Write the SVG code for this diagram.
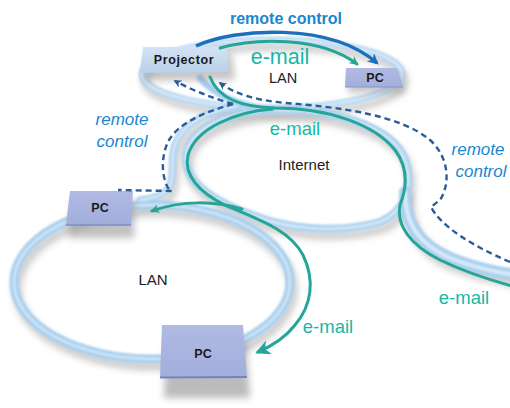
<svg xmlns="http://www.w3.org/2000/svg" width="510" height="408" viewBox="0 0 510 408">
<defs>
<style>
text{font-family:"Liberation Sans",Arial,sans-serif}
.sh{fill:none;stroke:#a7a7a7;stroke-opacity:.55;stroke-linecap:round}
.bd{fill:none;stroke:#a9cfee;stroke-linecap:round}
.bi{fill:none;stroke:#d8ebf9;stroke-linecap:round}
.teal{fill:none;stroke:#25a596;stroke-width:3;stroke-linecap:round}
.dash{fill:none;stroke:#2b5c98;stroke-width:2.4;stroke-dasharray:6 4}
.rc{fill:#1b86d0}
.em{fill:#16b8a5}
.lbl{fill:#222}
.pc{font-weight:bold;font-size:12.5px;fill:#1a1a1a;text-anchor:middle}
.box{stroke:none}
</style>
<filter id="blur" x="-20%" y="-20%" width="140%" height="140%"><feGaussianBlur stdDeviation="3"/></filter>
<filter id="soft" x="-10%" y="-10%" width="120%" height="120%"><feGaussianBlur stdDeviation="0.8"/></filter>
<filter id="bshadow" x="-30%" y="-30%" width="160%" height="180%"><feGaussianBlur stdDeviation="3.5"/></filter>
<marker id="ateal" viewBox="0 0 10 10" refX="8" refY="5" markerWidth="9" markerHeight="9" markerUnits="userSpaceOnUse" orient="auto"><path d="M0,0 L10,5 L0,10 L3,5 Z" fill="#25a596"/></marker>
<marker id="atealbig" viewBox="0 0 10 10" refX="8" refY="5" markerWidth="17" markerHeight="15" markerUnits="userSpaceOnUse" orient="auto"><path d="M0,0 L10,5 L0,10 L3,5 Z" fill="#25a596"/></marker>
<marker id="ablue" viewBox="0 0 10 10" refX="8" refY="5" markerWidth="11" markerHeight="11" markerUnits="userSpaceOnUse" orient="auto"><path d="M0,0 L10,5 L0,10 L3,5 Z" fill="#1e6fba"/></marker>
<marker id="adash" viewBox="0 0 10 10" refX="8" refY="5" markerWidth="8" markerHeight="8" markerUnits="userSpaceOnUse" orient="auto"><path d="M0,0 L10,5 L0,10 L3,5 Z" fill="#2b5c98"/></marker>
<linearGradient id="gproj" x1="0" y1="0" x2="0" y2="1"><stop offset="0" stop-color="#d3e3f4"/><stop offset="1" stop-color="#b9cfea"/></linearGradient>
<linearGradient id="gpc" x1="0" y1="0" x2="0" y2="1"><stop offset="0" stop-color="#b0bae3"/><stop offset="1" stop-color="#a2aedb"/></linearGradient>
</defs>
<rect width="510" height="408" fill="#ffffff"/>

<g id="network-bands">
  <g filter="url(#blur)" transform="translate(3,7)">
    <ellipse class="sh" cx="152" cy="282" rx="138" ry="77" stroke-width="10"/>
    <ellipse class="sh" cx="272" cy="74" rx="130" ry="34" stroke-width="8"/>
    <path class="sh" stroke-width="9" d="M272,110 C330,108 392,125 405,160 C414,190 403,212 380,222 C340,233 290,230 255,216 C215,202 183,182 186,155 C190,128 228,112 272,110 Z"/>
    <path class="sh" stroke-width="13" d="M405,192 C405,225 420,245 450,258 C475,268 495,272 515,275"/>
    <path class="sh" stroke-width="8" d="M238,106 C202,112 175,128 173,155 C171,180 178,196 140,200"/>
  </g>
  <g filter="url(#soft)">
    <ellipse class="bd" cx="152" cy="282" rx="138" ry="77" stroke-width="9"/>
    <ellipse class="bi" cx="152" cy="282" rx="138" ry="77" stroke-width="2"/>
    <ellipse class="bd" cx="272" cy="74" rx="130" ry="34" stroke-width="7" stroke-opacity=".85"/>
    <ellipse class="bi" cx="272" cy="74" rx="130" ry="34" stroke-width="2.5"/>
    <path class="bd" stroke-width="8" d="M272,110 C330,108 392,125 405,160 C414,190 403,212 380,222 C340,233 290,230 255,216 C215,202 183,182 186,155 C190,128 228,112 272,110 Z"/>
    <path class="bi" stroke-width="2.5" d="M272,110 C330,108 392,125 405,160 C414,190 403,212 380,222 C340,233 290,230 255,216 C215,202 183,182 186,155 C190,128 228,112 272,110 Z"/>
    <path class="bd" stroke-width="12" d="M405,192 C405,225 420,245 450,258 C475,268 495,272 515,275"/>
    <path class="bi" stroke-width="4" d="M405,192 C405,225 420,245 450,258 C475,268 495,272 515,275"/>
    <path class="bd" stroke-width="7" d="M238,106 C202,112 175,128 173,155 C171,180 178,196 140,200"/>
    <path class="bi" stroke-width="2.5" d="M238,106 C202,112 175,128 173,155 C171,180 178,196 140,200"/>
    <path class="bd" stroke-width="7" d="M200,78 C215,95 240,106 272,110"/>
  </g>
</g>

<g id="projector">
  <polygon points="146,54 232,54 235,80 143,81" fill="#8f8f8f" opacity=".5" filter="url(#bshadow)"/>
  <polygon class="box" points="143,47 226,47 229,72 140,73" fill="url(#gproj)"/>
  <text x="184" y="64" class="pc" style="letter-spacing:.6px">Projector</text>
</g>
<g id="pc-top">
  <polygon points="349,74 400,74 406,93 348,93" fill="#8f8f8f" opacity=".5" filter="url(#bshadow)"/>
  <polygon class="box" points="346,68 397,68 403,87 345,87" fill="url(#gpc)"/>
  <line x1="345" y1="87" x2="403" y2="87" stroke="#8593cb" stroke-width="1.2"/>
  <text x="375" y="82" class="pc">PC</text>
</g>
<g id="pc-left">
  <polygon points="72,200 135,200 134,238 68,238" fill="#8f8f8f" opacity=".55" filter="url(#bshadow)"/>
  <polygon class="box" points="70,191 133,191 131,225 66,225" fill="url(#gpc)"/>
  <line x1="66" y1="225" x2="131" y2="225" stroke="#7d8cc7" stroke-width="1.5"/>
  <text x="100" y="212" class="pc">PC</text>
</g>
<g id="pc-bottom">
  <polygon points="166,340 246,340 250,398 164,398" fill="#8f8f8f" opacity=".6" filter="url(#bshadow)"/>
  <polygon class="box" points="162,325 243,325 247,377 160,378" fill="url(#gpc)"/>
  <line x1="160" y1="377.5" x2="247" y2="377" stroke="#7383c2" stroke-width="2"/>
  <text x="203" y="358" class="pc">PC</text>
</g>

<g id="connectors">
  <path d="M196,46 C235,28 330,22 377,63" fill="none" stroke="#1e6fba" stroke-width="3.5" marker-end="url(#ablue)"/>
  <path class="teal" stroke-width="2.5" d="M220,48 C255,38 320,36 357,64" marker-end="url(#ateal)"/>
  <path class="dash" d="M233,104 C212,98 192,90 175,81" marker-end="url(#adash)"/>
  <path class="dash" d="M233,104 C205,112 180,122 169,140 C161,155 161,175 168,188 L172,191 L118,190"/>
  <path class="dash" d="M510,262 C470,245 440,225 431,207 L440,200 C450,185 450,158 430,140 C400,115 340,107 285,103 C255,100 235,94 220,83" marker-end="url(#adash)"/>
  <path class="teal" d="M210,77 C218,98 240,107 275,108 C330,108 375,125 395,150 C410,170 406,190 400,205 C396,225 410,245 440,260 C465,272 490,280 512,286"/>
  <path class="teal" d="M272,109 C235,112 196,128 188,155 C183,175 200,193 225,205 C260,220 290,230 303,255 C315,280 312,305 295,325 C285,338 272,346 258,352" marker-end="url(#atealbig)"/>
  <path class="teal" stroke-width="2.5" d="M242,209 C215,201 182,200 152,211" marker-end="url(#ateal)"/>
</g>

<g id="labels">
  <text x="286" y="24" class="rc" font-size="16" font-weight="bold" text-anchor="middle">remote control</text>
  <text x="280" y="64" class="em" font-size="21.5" text-anchor="middle">e-mail</text>
  <text x="283" y="83" class="lbl" font-size="14.5" text-anchor="middle">LAN</text>
  <text x="122" y="125" class="rc" font-size="17" font-style="italic" text-anchor="middle">remote</text>
  <text x="122" y="147" class="rc" font-size="17" font-style="italic" text-anchor="middle">control</text>
  <text x="295" y="135" class="em" font-size="18.5" text-anchor="middle">e-mail</text>
  <text x="304" y="170" class="lbl" font-size="15" text-anchor="middle">Internet</text>
  <text x="478" y="155" class="rc" font-size="17" font-style="italic" text-anchor="middle">remote</text>
  <text x="481" y="177" class="rc" font-size="17" font-style="italic" text-anchor="middle">control</text>
  <text x="153" y="285" class="lbl" font-size="15" text-anchor="middle">LAN</text>
  <text x="328" y="333" class="em" font-size="18.5" text-anchor="middle">e-mail</text>
  <text x="464" y="304" class="em" font-size="18.5" text-anchor="middle">e-mail</text>
</g>
</svg>
